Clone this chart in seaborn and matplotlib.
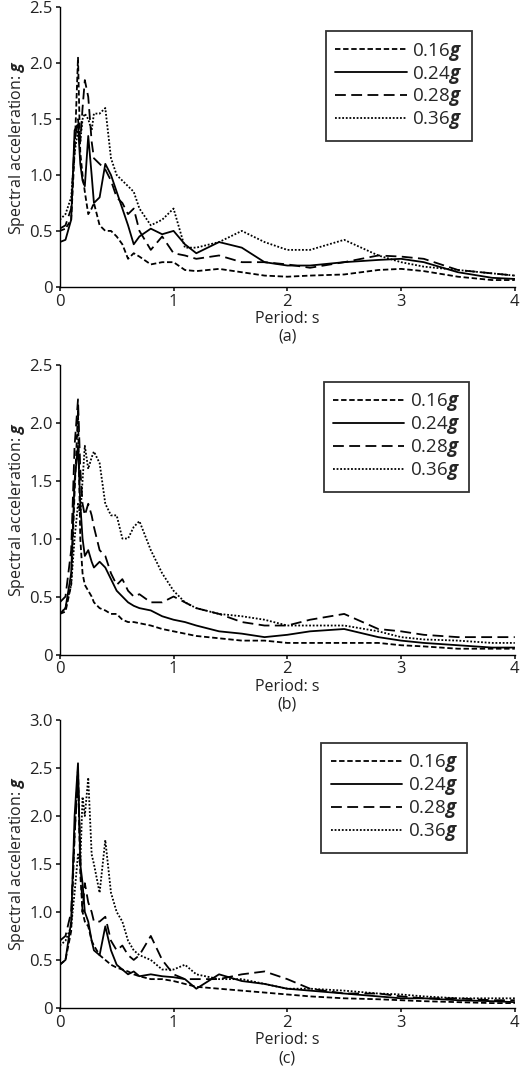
import matplotlib
matplotlib.use("Agg")
import matplotlib.pyplot as plt
import numpy as np
import pandas as pd
import seaborn as sns
from matplotlib.ticker import FuncFormatter

sns.set_theme(style="white")
plt.rcParams["font.family"] = ["Open Sans", "DejaVu Sans"]
plt.rcParams["mathtext.fontset"] = "custom"
plt.rcParams["mathtext.it"] = "Open Sans:italic:bold"
plt.rcParams["mathtext.rm"] = "Open Sans"

period = [0, 0.05, 0.1, 0.13, 0.16, 0.18, 0.2, 0.22, 0.25, 0.28, 0.3, 0.35, 0.4, 0.45,
          0.5, 0.55, 0.6, 0.65, 0.7, 0.8, 0.9, 1.0, 1.1, 1.2, 1.4, 1.6, 1.8, 2.0, 2.2,
          2.5, 2.8, 3.0, 3.2, 3.5, 3.8, 4.0]
levels = ["0.16$g$", "0.24$g$", "0.28$g$", "0.36$g$"]

a_016 = [0.5, 0.52, 0.6, 1.2, 2.05, 1.2, 1.0, 0.85, 0.65, 0.7, 0.75, 0.55, 0.5, 0.5, 0.45, 0.38, 0.25, 0.3,
         0.27, 0.2, 0.22, 0.22, 0.15, 0.14, 0.16, 0.13, 0.1, 0.09, 0.1, 0.11, 0.15, 0.16, 0.14, 0.09, 0.06, 0.06]
a_024 = [0.4, 0.42, 0.6, 1.4, 1.45, 1.1, 0.95, 0.9, 1.35, 1.0, 0.75, 0.8, 1.1, 1.0, 0.85, 0.7, 0.55, 0.38,
         0.45, 0.52, 0.47, 0.5, 0.38, 0.3, 0.4, 0.35, 0.22, 0.19, 0.19, 0.22, 0.24, 0.25, 0.22, 0.13, 0.08, 0.07]
a_028 = [0.52, 0.55, 0.7, 1.3, 1.5, 1.3, 1.6, 1.85, 1.7, 1.3, 1.15, 1.1, 1.05, 0.95, 0.8, 0.75, 0.65, 0.7,
         0.5, 0.33, 0.45, 0.3, 0.28, 0.25, 0.28, 0.22, 0.22, 0.2, 0.17, 0.22, 0.28, 0.27, 0.25, 0.15, 0.12, 0.1]
a_036 = [0.6, 0.65, 0.8, 1.2, 1.4, 1.3, 1.5, 1.55, 1.5, 1.4, 1.55, 1.55, 1.6, 1.15, 1.0, 0.95, 0.9, 0.85,
         0.7, 0.55, 0.6, 0.7, 0.35, 0.35, 0.4, 0.5, 0.4, 0.33, 0.33, 0.42, 0.28, 0.22, 0.18, 0.15, 0.12, 0.1]

b_016 = [0.35, 0.37, 0.6, 1.4, 2.1, 1.0, 0.7, 0.6, 0.55, 0.5, 0.45, 0.4, 0.38, 0.35, 0.35, 0.3, 0.28, 0.28,
         0.27, 0.25, 0.22, 0.2, 0.18, 0.16, 0.14, 0.12, 0.12, 0.1, 0.1, 0.1, 0.1, 0.08, 0.07, 0.05, 0.05, 0.05]
b_024 = [0.35, 0.4, 0.7, 1.5, 1.8, 1.3, 1.0, 0.85, 0.9, 0.8, 0.75, 0.8, 0.75, 0.65, 0.55, 0.5, 0.45, 0.42,
         0.4, 0.38, 0.33, 0.3, 0.28, 0.25, 0.2, 0.18, 0.15, 0.17, 0.2, 0.22, 0.15, 0.12, 0.1, 0.08, 0.06, 0.06]
b_028 = [0.45, 0.5, 0.9, 1.8, 2.2, 1.6, 1.3, 1.2, 1.3, 1.2, 1.1, 0.9, 0.85, 0.7, 0.6, 0.65, 0.55, 0.5,
         0.52, 0.45, 0.45, 0.5, 0.45, 0.4, 0.35, 0.28, 0.25, 0.25, 0.3, 0.35, 0.22, 0.2, 0.17, 0.15, 0.15, 0.15]
b_036 = [0.35, 0.4, 0.6, 1.0, 1.3, 1.2, 1.5, 1.8, 1.6, 1.7, 1.75, 1.65, 1.3, 1.2, 1.2, 1.0, 1.0, 1.1,
         1.15, 0.9, 0.7, 0.55, 0.45, 0.4, 0.35, 0.33, 0.3, 0.25, 0.25, 0.25, 0.2, 0.15, 0.13, 0.12, 0.1, 0.1]

c_016 = [0.45, 0.5, 0.8, 1.8, 2.5, 1.4, 1.0, 0.9, 0.85, 0.7, 0.65, 0.55, 0.5, 0.45, 0.42, 0.4, 0.38, 0.35,
         0.33, 0.3, 0.3, 0.28, 0.25, 0.22, 0.2, 0.18, 0.16, 0.14, 0.12, 0.1, 0.09, 0.08, 0.07, 0.06, 0.05, 0.05]
c_024 = [0.45, 0.5, 0.9, 2.0, 2.55, 1.5, 1.3, 1.0, 0.9, 0.7, 0.6, 0.55, 0.85, 0.6, 0.45, 0.4, 0.35, 0.38,
         0.33, 0.35, 0.33, 0.32, 0.3, 0.2, 0.35, 0.28, 0.25, 0.2, 0.18, 0.15, 0.12, 0.1, 0.1, 0.08, 0.07, 0.06]
c_028 = [0.7, 0.75, 1.0, 1.8, 2.4, 1.6, 1.0, 1.3, 1.1, 1.0, 0.9, 0.9, 0.95, 0.7, 0.6, 0.65, 0.55, 0.5,
         0.55, 0.75, 0.5, 0.35, 0.3, 0.3, 0.3, 0.35, 0.38, 0.3, 0.2, 0.15, 0.15, 0.12, 0.1, 0.1, 0.08, 0.08]
c_036 = [0.65, 0.7, 0.85, 1.2, 1.6, 1.5, 2.2, 2.0, 2.4, 1.6, 1.5, 1.2, 1.75, 1.2, 1.0, 0.9, 0.7, 0.6,
         0.55, 0.5, 0.4, 0.4, 0.45, 0.35, 0.3, 0.3, 0.25, 0.2, 0.2, 0.18, 0.15, 0.14, 0.12, 0.1, 0.1, 0.1]

panels = [
    ("(a)", [a_016, a_024, a_028, a_036], 2.5, [0.731, 0.262], (0.905, 0.915)),
    ("(b)", [b_016, b_024, b_028, b_036], 2.5, [0.386, 0.272], (0.90, 0.94)),
    ("(c)", [c_016, c_024, c_028, c_036], 3.0, [0.0545, 0.27], (0.895, 0.92)),
]
dashes = {levels[0]: (3, 1.5), levels[1]: "", levels[2]: (6, 3), levels[3]: (1, 1)}

fig = plt.figure(figsize=(5.2, 10.66), dpi=100)
for label, series, ymax, (bottom, height), anchor in panels:
    ax = fig.add_axes([0.115, bottom, 0.875, height])
    df = pd.DataFrame({
        "period": period * 4,
        "sa": sum(series, []),
        "level": [lv for lv in levels for _ in period],
    })
    sns.lineplot(data=df, x="period", y="sa", style="level", dashes=dashes,
                 color="black", linewidth=1.3, ax=ax)
    ax.set_xlim(0, 4)
    ax.set_ylim(0, ymax)
    ax.set_xticks([0, 1, 2, 3, 4])
    ax.set_yticks(np.arange(0, ymax + 0.01, 0.5))
    ax.yaxis.set_major_formatter(FuncFormatter(lambda v, p: "0" if v == 0 else f"{v:.1f}"))
    ax.set_xlabel("Period: s\n" + label, fontsize=11.5, linespacing=1.15, color="#222222", labelpad=1)
    ax.set_ylabel("Spectral acceleration: $g$", fontsize=11.5, color="#222222", labelpad=2)
    ax.tick_params(labelsize=12, colors="#222222", length=3, direction="out", left=True, bottom=True, pad=2)
    for side in ["top", "right"]:
        ax.spines[side].set_visible(False)
    for side in ["left", "bottom"]:
        ax.spines[side].set_color("black")
        ax.spines[side].set_linewidth(1.0)
    leg = ax.legend(loc="upper right", bbox_to_anchor=anchor, fontsize=13.5, frameon=True,
                    fancybox=False, handlelength=3.8, borderpad=0.5, labelspacing=0.05,
                    handletextpad=0.3, borderaxespad=0)
    leg.get_frame().set_edgecolor("black")
    leg.get_frame().set_linewidth(1.3)
    for line in leg.get_lines():
        line.set_linewidth(1.3)

fig.savefig("out.png", dpi=100)
